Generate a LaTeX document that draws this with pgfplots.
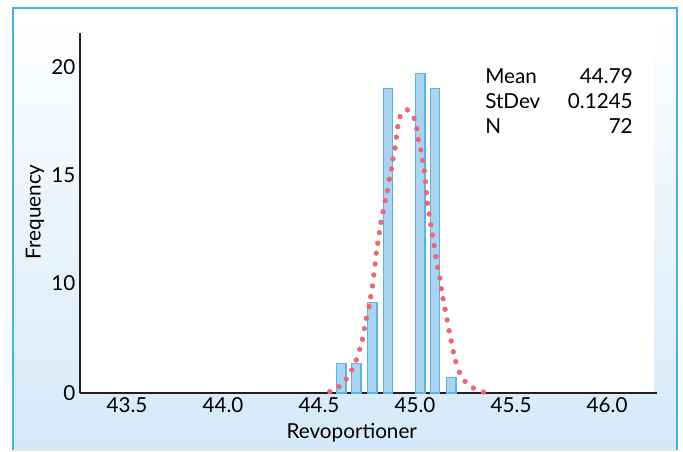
\documentclass[border=0pt]{standalone}
\usepackage{fontspec}
\setmainfont{Lato}
\usepackage{pgfplots}
\pgfplotsset{compat=1.18}

\definecolor{frameBlue}{RGB}{69,179,231}
\definecolor{bgBlue}{RGB}{213,233,248}
\definecolor{barFill}{RGB}{170,212,240}
\definecolor{barEdge}{RGB}{92,180,230}
\definecolor{curveRed}{RGB}{236,102,118}
\definecolor{axisBlack}{RGB}{35,31,32}

\newcommand{\chartfont}{\fontsize{15.5}{18}\selectfont}

\begin{document}
\begin{tikzpicture}[font=\chartfont]
% background, in pixel units of the reference (y downwards)
\begin{scope}[x=0.75pt,y=-0.75pt]
  \fill[white] (0,0) rectangle (683,450);
  \shade[top color=white, bottom color=bgBlue] (12.5,7.5) rectangle (677,450);
  \draw[frameBlue, line width=1.5pt] (12.5,450) -- (12.5,7.5) -- (677,7.5) -- (677,450);
  \fill[white] (80,30) rectangle (654,393);
  % summary box
  \node[anchor=base west, inner sep=0pt] at (485,83)  {Mean};
  \node[anchor=base west, inner sep=0pt] at (485,108) {StDev};
  \node[anchor=base west, inner sep=0pt] at (485,133) {N};
  \node[anchor=base east, inner sep=0pt] at (633,83)  {44.79};
  \node[anchor=base east, inner sep=0pt] at (633,108) {0.1245};
  \node[anchor=base east, inner sep=0pt] at (633,133) {72};
\end{scope}

\begin{axis}[
    at={(60pt,-294.75pt)}, anchor=south west,
    scale only axis,
    width=432.75pt, height=270pt,
    xmin=43.255, xmax=46.26,
    ymin=0, ymax=21.57,
    % the printed y scale is not linear: 0-10 takes as much room as 10-15
    y coord trafo/.code={\pgfmathparse{#1<10 ? #1*1.1 : 11+(#1-10)*2.16}},
    axis x line=bottom, axis y line=left,
    axis line style={-, line width=1.8pt, axisBlack},
    major tick length=0pt,
    xtick={43.5,44,44.5,45,45.5,46},
    ytick={0,10,15,20}, yticklabels={0,10,15,20},
    xticklabel style={/pgf/number format/.cd, fixed, fixed zerofill, precision=1, assume math mode=true},
    yticklabel style={/pgf/number format/assume math mode=true},
    ticklabel style={font=\chartfont},
    xlabel={Revoportioner}, ylabel={Frequency},
    label style={font=\chartfont},
    every axis x label/.style={at={(axis description cs:0.471,-0.111)}, anchor=center},
    every axis y label/.style={at={(axis description cs:-0.078,0.503)}, anchor=center, rotate=90},
    clip=false,
]
\addplot[ybar, bar shift=0pt, bar width=0.05, fill=barFill, draw=barEdge, line width=1pt]
    coordinates {(44.615,2.7) (44.693,2.7) (44.776,8.2) (44.859,19.0)
                 (45.026,19.7) (45.104,19.0) (45.188,1.4)};
\addplot[only marks, mark=*, mark size=1.75pt, color=curveRed]
    coordinates {
    (44.556,0.12) (44.604,0.57) (44.642,1.27) (44.670,2.09) (44.694,3.00)
    (44.712,3.97) (44.726,4.88) (44.736,5.85) (44.746,6.79) (44.760,7.85)
    (44.769,8.75) (44.778,9.73) (44.785,10.37) (44.792,10.88) (44.798,11.38)
    (44.806,11.84) (44.814,12.33) (44.823,12.81) (44.833,13.30) (44.844,13.81)
    (44.856,14.27) (44.866,14.80) (44.877,15.28) (44.885,15.75) (44.896,16.25)
    (44.903,16.75) (44.910,17.24) (44.922,17.70) (44.960,18.01) (44.995,17.62)
    (45.009,17.14) (45.017,16.64) (45.030,16.16) (45.040,15.68) (45.048,15.19)
    (45.054,14.69) (45.059,14.18) (45.064,13.69) (45.073,13.19) (45.082,12.70)
    (45.090,12.22) (45.099,11.73) (45.108,11.22) (45.118,10.73) (45.129,10.23)
    (45.137,9.48) (45.146,8.57) (45.156,7.61) (45.167,6.64) (45.177,5.66)
    (45.188,4.73) (45.199,3.75) (45.212,2.85) (45.231,1.88) (45.260,1.06)
    (45.304,0.45) (45.356,0.09)};
\end{axis}
\end{tikzpicture}
\end{document}
